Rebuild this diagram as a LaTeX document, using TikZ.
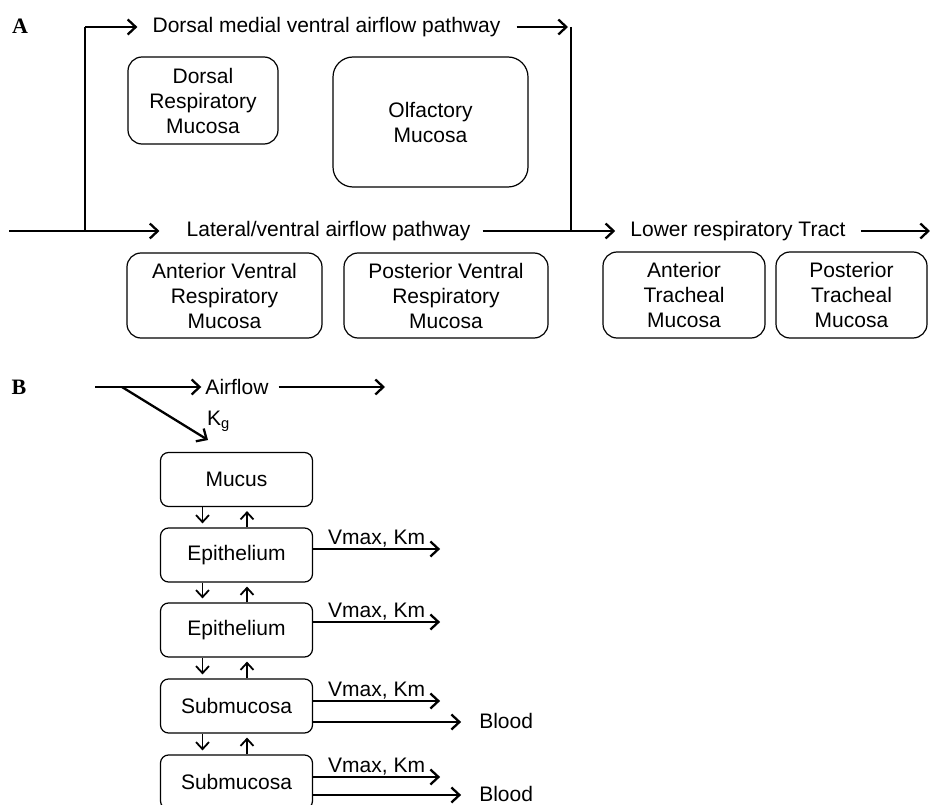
\documentclass[tikz,border=0pt]{standalone}
\usepackage{fontspec}
\setmainfont{Liberation Sans}
\newfontfamily\panelfont{Liberation Serif}
\usetikzlibrary{arrows.meta}

\begin{document}
\begin{tikzpicture}[x=1pt, y=-1pt,
  every node/.style={font=\fontsize{21}{25}\selectfont},
  lab/.style={font=\panelfont\bfseries\fontsize{22}{22}\selectfont, inner sep=0pt},
  box/.style={draw, line width=1.2pt, rounded corners=14pt, align=center, inner sep=0pt},
  layer/.style={box, rounded corners=8pt, minimum width=152pt, minimum height=54pt},
  flow/.style={line width=2.3pt, -{Straight Barb[length=8pt, width=15pt]}},
  link/.style={line width=1.2pt},
  exchange/.style={line width=1.8pt, shorten >=4pt, -{Straight Barb[length=7pt, width=13pt]}}]
  \useasboundingbox (0,0) rectangle (930,805);

  % panel A
  \node[lab] (labA) at (20,26) {A};
  \coordinate (in) at (9,231);
  \coordinate (split) at (85,231);
  \coordinate (join) at (571,27);
  \coordinate (out) at (930,231);
  \node[inner sep=0pt] (dorsal) at (326.5,27) {Dorsal medial ventral airflow pathway};
  \node[inner sep=0pt] (lateral) at (328.5,231) {Lateral/ventral airflow pathway};
  \node[inner sep=0pt] (lower) at (738,231) {Lower respiratory Tract};

  \draw[link] (split) -- (split |- dorsal);
  \draw[flow, shorten >=15pt] (split |- dorsal) -- (dorsal.west);
  \draw[flow, shorten <=16pt, shorten >=3pt] (dorsal.east) -- (join);
  \draw[link] (join) -- (join |- lateral);
  \draw[flow, shorten >=27pt] (in) -- (lateral.west);
  \draw[flow, shorten <=12pt, shorten >=15pt] (lateral.east) -- (lower.west);
  \draw[flow, shorten <=15pt] (lower.east) -- (out);

  \node[box, minimum width=150pt, minimum height=87pt] (dorsalresp) at (203,100.5) {Dorsal\\Respiratory\\Mucosa};
  \node[box, rounded corners=20pt, minimum width=195pt, minimum height=130pt] (olfactory) at (430.5,122) {Olfactory\\Mucosa};
  \node[box, minimum width=195pt, minimum height=85pt] (antvent) at (224.5,295.5) {Anterior Ventral\\Respiratory\\Mucosa};
  \node[box, minimum width=204pt, minimum height=85pt] (postvent) at (446,295.5) {Posterior Ventral\\Respiratory\\Mucosa};
  \node[box, minimum width=162pt, minimum height=86pt] (anttrach) at (684,295) {Anterior\\Tracheal\\Mucosa};
  \node[box, minimum width=151pt, minimum height=86pt] (posttrach) at (851.5,295) {Posterior\\Tracheal\\Mucosa};

  % panel B
  \node[lab] (labB) at (19,387) {B};
  \coordinate (bin) at (95,387);
  \coordinate (bsplit) at (122,387);
  \coordinate (bout) at (385,387);
  \coordinate (kgtip) at (208,440);
  \node[inner sep=0pt] (airflow) at (237,387) {Airflow};
  \node[anchor=base west, inner sep=0pt] (kg) at (207,425) {K\textsubscript{g}};

  \draw[flow, shorten >=4pt] (bin) -- (airflow.west);
  \draw[flow, shorten <=10pt] (airflow.east) -- (bout);
  \draw[flow] (bsplit) -- (kgtip);

  \node[layer] (mucus) at (236.5,479.5) {Mucus};
  \node[layer] (epi1) at (236.5,555) {Epithelium};
  \node[layer] (epi2) at (236.5,630) {Epithelium};
  \node[layer] (sub1) at (236.5,706) {Submucosa};
  \node[layer] (sub2) at (236.5,782) {Submucosa};

  \foreach \a/\b in {mucus/epi1, epi1/epi2, epi2/sub1, sub1/sub2} {
    \draw[exchange] ([xshift=-34pt]\a.south) -- ([xshift=-34pt]\b.north);
    \draw[exchange] ([xshift=10.5pt]\b.north) -- ([xshift=10.5pt]\a.south);
  }
  \foreach \n/\d in {epi1/6, epi2/8, sub1/5, sub2/5}
    \draw[flow] ([yshift=\d pt]\n.east) -- ++(127,0) node[midway, above, inner sep=1pt] {Vmax, Km};
  \foreach \n/\d in {sub1/16, sub2/13}
    \draw[flow] ([yshift=-\d pt]\n.east) -- ++(148,0) node[right=17pt, yshift=1.5pt, inner sep=0pt] {Blood};
\end{tikzpicture}
\end{document}
